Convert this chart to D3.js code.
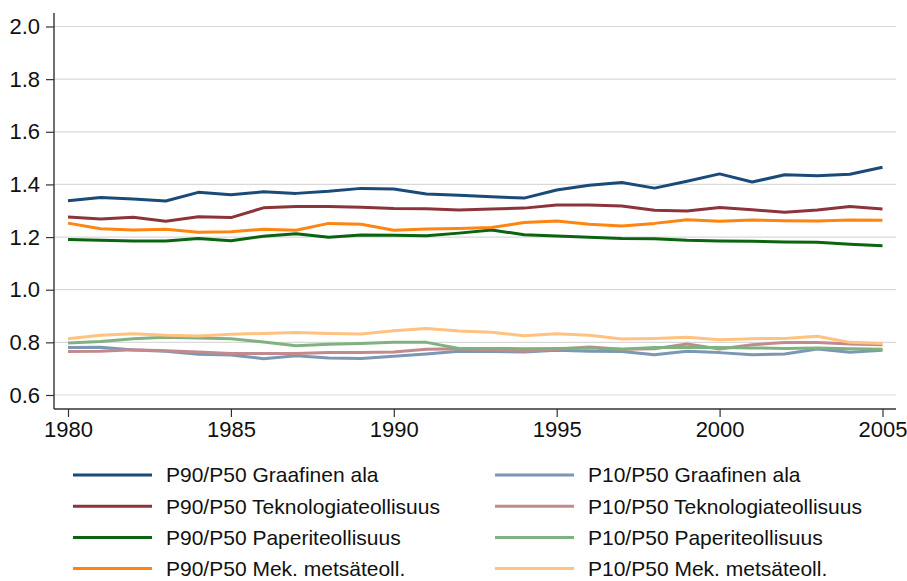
<!DOCTYPE html>
<html><head><meta charset="utf-8">
<script src="https://cdn.jsdelivr.net/npm/d3@7"></script>
<style>body{margin:0;background:#fff}svg{display:block}text{font-family:"Liberation Sans",Arial,sans-serif}</style>
</head><body>
<svg id="c" width="907" height="581"></svg>
<script>
const years = d3.range(1980, 2006);
const yTicks = [0.6, 0.8, 1.0, 1.2, 1.4, 1.6, 1.8, 2.0];
const xTicks = [1980, 1985, 1990, 1995, 2000, 2005];

const p90Graafinen = [1.338,1.350,1.345,1.337,1.370,1.361,1.372,1.366,1.374,1.385,1.383,1.364,1.359,1.353,1.348,1.379,1.397,1.407,1.386,1.412,1.440,1.409,1.437,1.433,1.439,1.465];
const p10Graafinen = [0.780,0.781,0.771,0.766,0.755,0.752,0.738,0.749,0.741,0.739,0.747,0.756,0.766,0.765,0.763,0.770,0.766,0.765,0.753,0.766,0.761,0.753,0.756,0.775,0.762,0.770];
const p90Tekno = [1.276,1.269,1.275,1.260,1.277,1.274,1.311,1.316,1.316,1.313,1.309,1.308,1.303,1.307,1.310,1.322,1.322,1.318,1.302,1.299,1.312,1.304,1.294,1.303,1.316,1.307];
const p10Tekno = [0.765,0.766,0.772,0.768,0.763,0.758,0.758,0.758,0.761,0.761,0.763,0.774,0.776,0.772,0.766,0.774,0.782,0.774,0.776,0.794,0.775,0.791,0.799,0.799,0.794,0.791];
const p90Paperi = [1.191,1.188,1.185,1.185,1.195,1.186,1.203,1.213,1.199,1.208,1.207,1.205,1.215,1.227,1.209,1.204,1.199,1.195,1.194,1.188,1.185,1.184,1.181,1.180,1.173,1.167];
const p10Paperi = [0.798,0.803,0.814,0.819,0.817,0.814,0.801,0.787,0.793,0.796,0.800,0.800,0.777,0.777,0.776,0.777,0.779,0.774,0.780,0.780,0.780,0.779,0.777,0.779,0.776,0.774];
const p90Mek = [1.253,1.232,1.227,1.230,1.218,1.220,1.230,1.226,1.252,1.249,1.226,1.231,1.233,1.236,1.255,1.261,1.249,1.242,1.252,1.266,1.260,1.265,1.262,1.261,1.265,1.264];
const p10Mek = [0.814,0.827,0.833,0.827,0.824,0.831,0.834,0.837,0.834,0.832,0.844,0.853,0.843,0.838,0.825,0.833,0.827,0.813,0.815,0.819,0.810,0.814,0.815,0.823,0.800,0.796];

const seriesNames = ["P90/P50 Graafinen ala","P10/P50 Graafinen ala","P90/P50 Teknologiateollisuus","P10/P50 Teknologiateollisuus","P90/P50 Paperiteollisuus","P10/P50 Paperiteollisuus","P90/P50 Mek. metsäteoll.","P10/P50 Mek. metsäteoll."];
const seriesValues = [p90Graafinen,p10Graafinen,p90Tekno,p10Tekno,p90Paperi,p10Paperi,p90Mek,p10Mek];
const seriesColors = ["#1a4a77","#7b97b4","#8b343c","#c38a8e","#0a6410","#80b27f","#ff8410","#ffc280"];

const svg = d3.select("#c");
const x = d3.scaleLinear().domain([1980, 2005]).range([68, 882.5]);
const y = d3.scaleLinear().domain([0.6, 2.0]).range([395, 26.5]);
const plotL = 54, plotR = 896, plotT = 13, plotB = 409;

// gridlines
svg.append("g").selectAll("line").data(yTicks).join("line")
  .attr("x1", plotL).attr("x2", plotR)
  .attr("y1", d => y(d)).attr("y2", d => y(d))
  .attr("stroke", "#d9d9d9").attr("stroke-width", 1.2);

// y axis
const yAxis = d3.axisLeft(y).tickValues(yTicks).tickFormat(d3.format(".1f")).tickSize(8).tickPadding(6);
const gy = svg.append("g").attr("transform", `translate(${plotL},0)`).call(yAxis);
gy.select(".domain").remove();
gy.append("line").attr("x1",0).attr("x2",0).attr("y1",plotT).attr("y2",plotB).attr("stroke","#333").attr("stroke-width",1.4);
gy.selectAll(".tick line").attr("stroke","#333").attr("stroke-width",1.2);
gy.selectAll(".tick text").attr("font-size", 22).attr("fill","#111").attr("font-family","Liberation Sans, Arial, sans-serif");

// x axis
const xAxis = d3.axisBottom(x).tickValues(xTicks).tickFormat(d3.format("d")).tickSize(8).tickPadding(4);
const gx = svg.append("g").attr("transform", `translate(0,${plotB})`).call(xAxis);
gx.select(".domain").remove();
gx.append("line").attr("x1",plotL).attr("x2",plotR).attr("y1",0).attr("y2",0).attr("stroke","#333").attr("stroke-width",1.4);
gx.selectAll(".tick line").attr("stroke","#333").attr("stroke-width",1.2);
gx.selectAll(".tick text").attr("font-size", 22).attr("fill","#111").attr("font-family","Liberation Sans, Arial, sans-serif");

// lines
const line = d3.line().x((d,i) => x(years[i])).y(d => y(d));
svg.append("g").selectAll("path").data(seriesValues).join("path")
  .attr("d", d => line(d)).attr("fill","none")
  .attr("stroke", (d,i) => seriesColors[i]).attr("stroke-width", 3)
  .attr("stroke-linejoin","round");

// legend
const legX = [73, 495], legY0 = 475, legDy = 31.2;
const lg = svg.append("g").selectAll("g").data(seriesNames).join("g")
  .attr("transform", (d,i) => `translate(${legX[i%2]},${legY0 + Math.floor(i/2)*legDy})`);
lg.append("line").attr("x1",0).attr("x2",79).attr("y1",0).attr("y2",0)
  .attr("stroke",(d,i)=>seriesColors[i]).attr("stroke-width",3);
lg.append("text").attr("x",93).attr("y",0).attr("dy","0.35em")
  .attr("font-size",21).attr("fill","#111").text(d=>d);
</script>
</body></html>
